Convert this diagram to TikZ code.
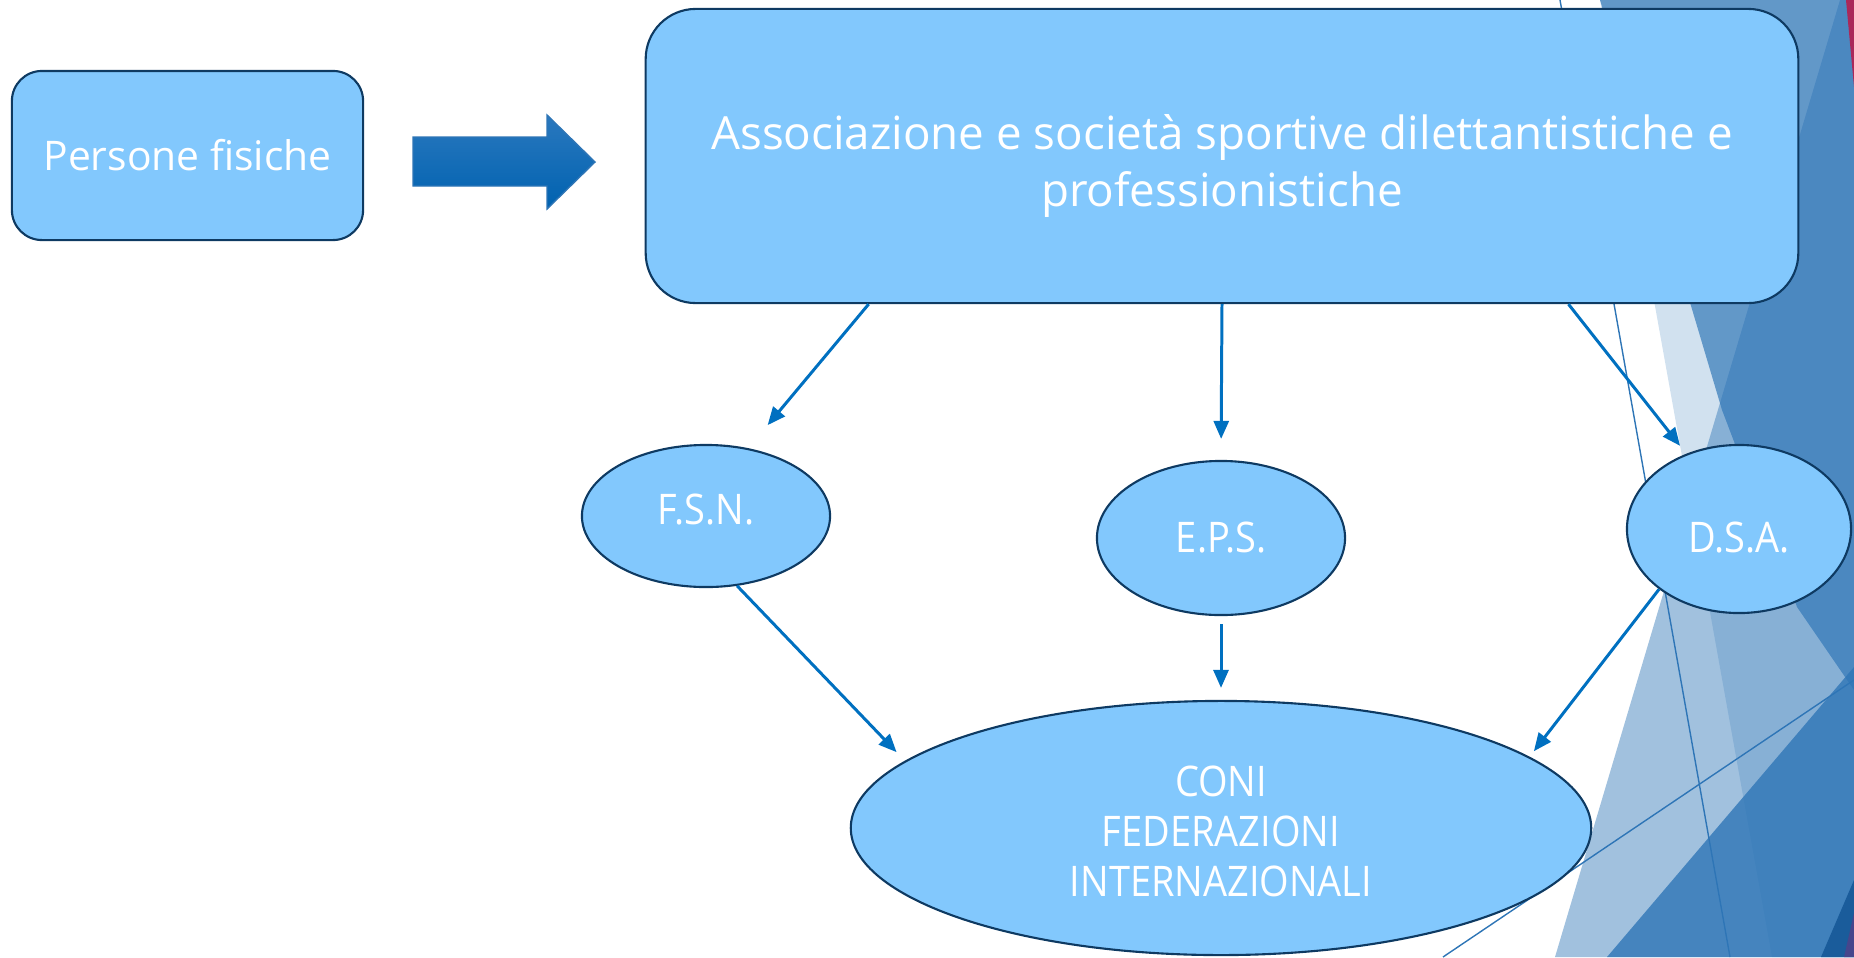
\documentclass[tikz,border=0pt]{standalone}
\usepackage{fontspec}
\setmainfont{Open Sans}
\newfontfamily\narrowfont[FakeStretch=0.9]{Open Sans}
\usepackage{tikz}
\usetikzlibrary{arrows.meta, positioning, calc, shapes.geometric}

\definecolor{nodofill}{RGB}{130,200,253}
\definecolor{nodobordo}{RGB}{14,58,98}
\definecolor{linea}{RGB}{0,112,192}
\definecolor{facet}{RGB}{46,117,182}
\definecolor{facetscuro}{RGB}{26,92,155}
\definecolor{cremisi}{RGB}{170,40,90}
\definecolor{viola}{RGB}{70,70,140}

\tikzset{
  box/.style={draw=nodobordo, line width=0.6pt, fill=nodofill, rounded corners=#1, text=white, align=center},
  bolla/.style={ellipse, draw=nodobordo, line width=0.6pt, fill=nodofill, text=white, align=center, inner sep=0pt,
    font=\narrowfont\fontsize{12}{14.2}\selectfont},
  conn/.style={-{Triangle[length=0.18cm, width=0.15cm]}, draw=linea, line width=0.85pt},
}

\begin{document}
\begin{tikzpicture}[x=0.01cm, y=-0.01cm]
\useasboundingbox (0,0) rectangle (1854,957);

% sfaccettature sul bordo destro
\fill[facet, opacity=0.22] (1600,0) -- (1854,0) -- (1854,957) -- (1772,957) -- cycle;
\fill[facet, opacity=0.68] (1600,0) -- (1854,0) -- (1854,690) -- (1797,607) -- (1722,410) -- cycle;
\fill[facet, opacity=0.45] (1840,0) -- (1854,0) -- (1854,957) -- (1555,957) -- cycle;
\fill[facet, opacity=0.8] (1607,957) -- (1854,667) -- (1854,957) -- cycle;
\fill[facetscuro] (1821,957) -- (1854,880) -- (1854,957) -- cycle;
\fill[viola] (1844,957) -- (1854,913) -- (1854,957) -- cycle;
\fill[cremisi] (1846,0) -- (1854,0) -- (1854,87) -- cycle;
\draw[facet, line width=0.4pt] (1560,0) -- (1730,957);
\draw[facet, line width=0.4pt] (1443,957) -- (1854,680);

\node[box=0.3cm, minimum width=3.51cm, minimum height=1.69cm, font=\fontsize{11.6}{14}\selectfont] (persone) at (187.5,155.5)
     {Persone fisiche};
\node[box=0.5cm, minimum width=11.52cm, minimum height=2.94cm, font=\fontsize{13}{16.2}\selectfont] (assoc) at (1222,156)
     {\rule{0pt}{0.54cm}Associazione e società sportive dilettantistiche e\\professionistiche};

% freccia piena tra i due riquadri
\shade[top color={rgb,255:red,42;green,120;blue,190}, bottom color={rgb,255:red,0;green,98;blue,176}, draw=facet, line width=0.4pt]
  (413,137) -- (547,137) -- (547,115) -- (595,162) -- (547,209) -- (547,186) -- (413,186) -- cycle;

\node[bolla, minimum width=2.48cm, minimum height=1.42cm, text depth=0.14cm] (fsn) at (706,516) {F.S.N.};
\node[bolla, minimum width=2.48cm, minimum height=1.54cm] (eps) at (1221,538) {E.P.S.};
\node[bolla, minimum width=2.24cm, minimum height=1.68cm, text height=0.48cm] (dsa) at (1739,529) {D.S.A.};
\node[bolla, minimum width=7.4cm, minimum height=2.54cm] (coni) at (1221,828)
     {\rule{0pt}{0.37cm}CONI\\FEDERAZIONI\\INTERNAZIONALI};

\draw[conn, shorten >=0.3cm] ($(assoc.south west)!0.194!(assoc.south east)$) -- (fsn.58);
\draw[conn, shorten >=0.21cm] (assoc.south) -- (eps.north);
\draw[conn, shorten >=0.1cm] ($(assoc.south west)!0.8!(assoc.south east)$) -- (dsa.125);
\draw[conn, shorten >=0.12cm] (fsn.-66) -- (coni.168);
\draw[conn, shorten <=0.08cm, shorten >=0.12cm] (eps.south) -- (coni.north);
\draw[conn, shorten >=0.07cm] (dsa.217) -- (coni.13);
\end{tikzpicture}
\end{document}
